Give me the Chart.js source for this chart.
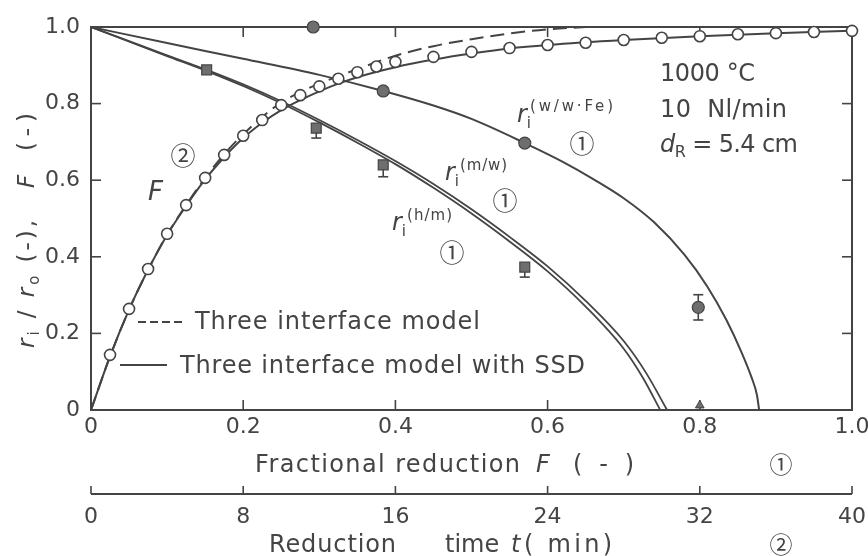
<!DOCTYPE html>
<html>

<head>
  <meta charset="utf-8" />
  <script src="https://cdn.jsdelivr.net/npm/chart.js"></script>
  <style>
    body { margin: 0; background: #fff; }
    #wrap { width: 868px; height: 556px; }
  </style>
</head>

<body>
  <div id="wrap"><canvas id="chart" width="868" height="556"></canvas></div>

  <script>
    // measured degree of reduction F against time t (open circles)
    var tMeas = [1, 2, 3, 4, 5, 6, 7, 8, 9, 10, 11, 12, 13, 14, 15, 16, 18, 20, 22, 24, 26, 28, 30, 32, 34, 36, 38, 40];
    var fMeas = [0.144, 0.264, 0.368, 0.46, 0.535, 0.606, 0.666, 0.716, 0.757, 0.796, 0.822, 0.845, 0.865, 0.882, 0.897, 0.909,
      0.922, 0.935, 0.945, 0.953, 0.959, 0.966, 0.972, 0.976, 0.981, 0.984, 0.987, 0.99];

    // F curve, three interface model with SSD (solid)
    var tSolid = [0, 1, 2, 3, 4, 5, 6, 7, 8, 9, 10, 11, 12, 13, 14, 16, 18, 20, 22, 24, 28, 32, 36, 40];
    var fSolid = [0, 0.14, 0.262, 0.366, 0.457, 0.533, 0.602, 0.66, 0.71, 0.75, 0.783, 0.809, 0.832, 0.852, 0.869, 0.895,
      0.915, 0.931, 0.944, 0.953, 0.966, 0.976, 0.984, 0.99];

    // F curve, three interface model (dashed)
    var tDash = [0, 1, 2, 3, 4, 5, 6, 7, 8, 9, 10, 11, 12, 14, 16, 18, 20, 22, 24, 26];
    var fDash = [0, 0.14, 0.262, 0.366, 0.458, 0.535, 0.606, 0.668, 0.72, 0.765, 0.803, 0.83, 0.852, 0.89, 0.925, 0.95,
      0.968, 0.983, 0.994, 1.0];

    // interface radii against fractional reduction F
    var fracW = [0, 0.1, 0.2, 0.3, 0.384, 0.45, 0.5, 0.57, 0.62, 0.66, 0.7, 0.74, 0.78, 0.81, 0.835, 0.855, 0.868, 0.875, 0.878];
    var rW = [1, 0.958, 0.917, 0.875, 0.833, 0.795, 0.76, 0.697, 0.648, 0.603, 0.553, 0.49, 0.405, 0.322, 0.235, 0.15, 0.085, 0.04, 0];

    var fracM = [0, 0.1, 0.152, 0.2, 0.25, 0.3, 0.35, 0.4, 0.45, 0.5, 0.55, 0.6, 0.65, 0.7, 0.73, 0.757];
    var rM = [1, 0.926, 0.888, 0.85, 0.806, 0.757, 0.705, 0.65, 0.59, 0.524, 0.452, 0.375, 0.285, 0.18, 0.095, 0];

    var fracH = [0, 0.1, 0.152, 0.2, 0.25, 0.3, 0.35, 0.4, 0.45, 0.5, 0.55, 0.6, 0.65, 0.7, 0.725, 0.748];
    var rH = [1, 0.924, 0.885, 0.846, 0.801, 0.751, 0.698, 0.642, 0.58, 0.513, 0.44, 0.362, 0.27, 0.16, 0.085, 0];

    // measured interface radii
    var wPtF = [0.292, 0.384, 0.57, 0.798];
    var wPtR = [1.0, 0.833, 0.697, 0.268];
    var wErrHi = [0, 0, 0, 0.033];
    var wErrLo = [0, 0, 0, 0.033];

    var sqF = [0.152, 0.296, 0.384, 0.57];
    var sqR = [0.888, 0.736, 0.64, 0.373];
    var sqErrLo = [0, 0.026, 0.031, 0.026];

    var triF = [0.8];
    var triR = [0.012];

    var xTickLabels = ['0', '0.2', '0.4', '0.6', '0.8', '1.0'];
    var yTickLabels = ['0', '0.2', '0.4', '0.6', '0.8', '1.0'];
    var tTickLabels = ['0', '8', '16', '24', '32', '40'];

    var ink = '#444';
    var fam = '"DejaVu Sans"';

    function f(size, italic) {
      return (italic ? 'italic ' : '') + size + 'px ' + fam;
    }

    function pts(xs, ys) {
      return xs.map(function (x, i) { return { x: x, y: ys[i] }; });
    }

    // draws text pieces one after another, spread out to a given width
    function runs(c, x, y, parts, fitW) {
      c.save();
      var w = 0, n = 0;
      parts.forEach(function (p) { c.font = p[1]; w += c.measureText(p[0]).width; n += p[0].length; });
      var ls = fitW && n > 1 ? (fitW - w) / (n - 1) : 0;
      if ('letterSpacing' in c) c.letterSpacing = ls + 'px';
      var cx = x;
      parts.forEach(function (p) {
        c.font = p[1];
        c.fillText(p[0], cx, y + (p[2] || 0));
        cx += c.measureText(p[0]).width;
      });
      c.restore();
    }

    function circled(c, s, x, y, size) {
      c.save();
      c.font = size + 'px "Noto Sans CJK JP"';
      c.textAlign = 'center';
      c.textBaseline = 'middle';
      c.fillText(s, x, y);
      c.restore();
    }

    function seg(c, x1, y1, x2, y2) {
      c.beginPath();
      c.moveTo(x1, y1);
      c.lineTo(x2, y2);
      c.stroke();
    }

    var decor = {
      id: 'decor',
      beforeDatasetsDraw: function (chart) {
        var c = chart.ctx, a = chart.chartArea;
        var sx = chart.scales.x, sy = chart.scales.y, st = chart.scales.xt;
        c.save();
        c.strokeStyle = ink;
        c.lineWidth = 2;
        c.strokeRect(a.left, a.top, a.right - a.left, a.bottom - a.top);

        // inward ticks on all four sides
        c.lineWidth = 1.6;
        sx.ticks.forEach(function (t, i) {
          if (i == 0 || i == sx.ticks.length - 1) return;
          var px = sx.getPixelForValue(t.value);
          seg(c, px, a.bottom, px, a.bottom - 10);
          seg(c, px, a.top, px, a.top + 10);
        });
        sy.ticks.forEach(function (t, i) {
          if (i == 0 || i == sy.ticks.length - 1) return;
          var py = sy.getPixelForValue(t.value);
          seg(c, a.left, py, a.left + 10, py);
          seg(c, a.right, py, a.right - 10, py);
        });

        // time axis
        c.lineWidth = 2;
        seg(c, a.left, st.top, a.right, st.top);
        c.lineWidth = 1.6;
        st.ticks.forEach(function (t) {
          var px = st.getPixelForValue(t.value);
          seg(c, px, st.top, px, st.top - 8);
        });

        // error bars
        c.lineWidth = 1.6;
        wPtF.forEach(function (v, i) {
          if (!wErrHi[i] && !wErrLo[i]) return;
          var px = sx.getPixelForValue(v);
          var hi = sy.getPixelForValue(wPtR[i] + wErrHi[i]);
          var lo = sy.getPixelForValue(wPtR[i] - wErrLo[i]);
          seg(c, px, hi, px, lo);
          seg(c, px - 5, hi, px + 5, hi);
          seg(c, px - 5, lo, px + 5, lo);
        });
        sqF.forEach(function (v, i) {
          if (!sqErrLo[i]) return;
          var px = sx.getPixelForValue(v);
          var lo = sy.getPixelForValue(sqR[i] - sqErrLo[i]);
          seg(c, px, sy.getPixelForValue(sqR[i]), px, lo);
          seg(c, px - 5, lo, px + 5, lo);
        });
        c.restore();
      },
      afterDraw: function (chart) {
        var c = chart.ctx;
        c.save();
        c.fillStyle = ink;
        c.strokeStyle = ink;
        c.textBaseline = 'alphabetic';

        // conditions
        runs(c, 660, 81, [['1000 °C', f(24)]], 95);
        runs(c, 660, 117, [['10  Nl/min', f(24)]], 127);
        runs(c, 660, 152, [['d', f(24, true)], ['R', f(16), 5], [' = 5.4 cm', f(24)]], 138);

        // curve labels
        runs(c, 517, 122, [['r', f(24, true)], ['i', f(15), 6]]);
        runs(c, 530, 111, [['(w/w·Fe)', f(15)]], 83);
        circled(c, '①', 582, 143, 25);

        runs(c, 445, 180, [['r', f(24, true)], ['i', f(15), 6]]);
        runs(c, 460, 170, [['(m/w)', f(15)]], 47);
        circled(c, '①', 505, 200, 25);

        runs(c, 392, 230, [['r', f(24, true)], ['i', f(15), 6]]);
        runs(c, 407, 220, [['(h/m)', f(15)]], 45);
        circled(c, '①', 452, 252, 25);

        circled(c, '②', 183, 155, 25);
        runs(c, 148, 200, [['F', f(26, true)]]);

        // legend
        c.lineWidth = 2;
        c.setLineDash([8, 4]);
        seg(c, 138, 322, 184, 322);
        c.setLineDash([]);
        seg(c, 120, 365, 167, 365);
        runs(c, 195, 329, [['Three interface model', f(24)]], 285);
        runs(c, 180, 373, [['Three interface model with SSD', f(24)]], 405);

        // axis titles
        runs(c, 255, 472, [['Fractional reduction', f(24)]], 265);
        runs(c, 536, 472, [['F', f(24, true)]]);
        runs(c, 573, 472, [['(  -  )', f(24)]], 61);
        circled(c, '①', 781, 464, 23);

        runs(c, 269, 552, [['Reduction', f(24)]], 127);
        runs(c, 445, 552, [['time', f(24)]]);
        runs(c, 511, 552, [['t', f(24, true)]]);
        runs(c, 524, 552, [['( min)', f(24)]], 88);
        circled(c, '②', 781, 544, 23);

        // y title, rotated
        c.translate(34, 0);
        c.rotate(-Math.PI / 2);
        runs(c, -348, 0, [['r', f(23, true)], ['i', f(15), 5], [' / ', f(23)], ['r', f(23, true)], ['o', f(15), 5], [' (-),', f(23)]], 128);
        runs(c, -188, 0, [['F', f(23, true)]]);
        runs(c, -151, 0, [['(-)', f(23)]], 38);
        c.restore();
      }
    };

    var lineStyle = {
      showLine: true, pointRadius: 0, borderColor: ink, borderWidth: 2,
      cubicInterpolationMode: 'monotone', fill: false
    };

    var ctx = document.getElementById('chart');
    new Chart(ctx, {
      type: 'scatter',
      data: {
        datasets: [
          {
            label: 'r_i w/w-Fe measured', data: pts(wPtF, wPtR), pointRadius: 6,
            pointBackgroundColor: '#6e6e6e', pointBorderColor: ink, pointBorderWidth: 1.2, clip: false
          },
          {
            label: 'r_i m/w measured', data: pts(sqF, sqR), pointStyle: 'rect', pointRadius: 7,
            pointBackgroundColor: '#6e6e6e', pointBorderColor: ink, pointBorderWidth: 1.2, clip: false
          },
          {
            label: 'r_i end', data: pts(triF, triR), pointStyle: 'triangle', pointRadius: 5,
            pointBackgroundColor: '#6e6e6e', pointBorderColor: ink, pointBorderWidth: 1, clip: false
          },
          {
            label: 'F measured', data: pts(tMeas, fMeas), xAxisID: 'xt', pointRadius: 5.5,
            pointBackgroundColor: '#fff', pointBorderColor: ink, pointBorderWidth: 1.6, clip: false
          },
          Object.assign({ label: 'F SSD', data: pts(tSolid, fSolid), xAxisID: 'xt' }, lineStyle),
          Object.assign({ label: 'F model', data: pts(tDash, fDash), xAxisID: 'xt', borderDash: [14, 7] }, lineStyle),
          Object.assign({ label: 'r_i w/w-Fe', data: pts(fracW, rW) }, lineStyle),
          Object.assign({ label: 'r_i m/w', data: pts(fracM, rM) }, lineStyle, { borderWidth: 1.8 }),
          Object.assign({ label: 'r_i h/m', data: pts(fracH, rH) }, lineStyle, { borderWidth: 1.8 })
        ]
      },
      options: {
        responsive: false,
        animation: false,
        layout: { padding: { top: 27, right: 16, left: 0, bottom: 0 } },
        plugins: { legend: { display: false }, tooltip: { enabled: false } },
        scales: {
          x: {
            type: 'linear', position: 'bottom', min: 0, max: 1, weight: 0,
            grid: { display: false, drawTicks: false }, border: { display: false },
            ticks: {
              stepSize: 0.2, padding: 4, color: ink, font: { family: 'DejaVu Sans', size: 22 },
              callback: function (v, i) { return xTickLabels[i]; }
            },
            afterFit: function (s) { s.height = 84; s.paddingLeft = 0; s.paddingRight = 0; }
          },
          xt: {
            type: 'linear', position: 'bottom', min: 0, max: 40, weight: 1,
            grid: { display: false, drawTicks: false }, border: { display: false },
            ticks: {
              stepSize: 8, padding: 10, color: ink, font: { family: 'DejaVu Sans', size: 22 },
              callback: function (v, i) { return tTickLabels[i]; }
            },
            afterFit: function (s) { s.height = 62; s.paddingLeft = 0; s.paddingRight = 0; }
          },
          y: {
            type: 'linear', position: 'left', min: 0, max: 1,
            grid: { display: false, drawTicks: false }, border: { display: false },
            ticks: {
              stepSize: 0.2, padding: 11, color: ink, font: { family: 'DejaVu Sans', size: 22 },
              callback: function (v, i) { return yTickLabels[i]; }
            },
            afterFit: function (s) { s.width = 91; s.paddingTop = 0; s.paddingBottom = 0; }
          }
        }
      },
      plugins: [decor]
    });
  </script>
</body>

</html>
